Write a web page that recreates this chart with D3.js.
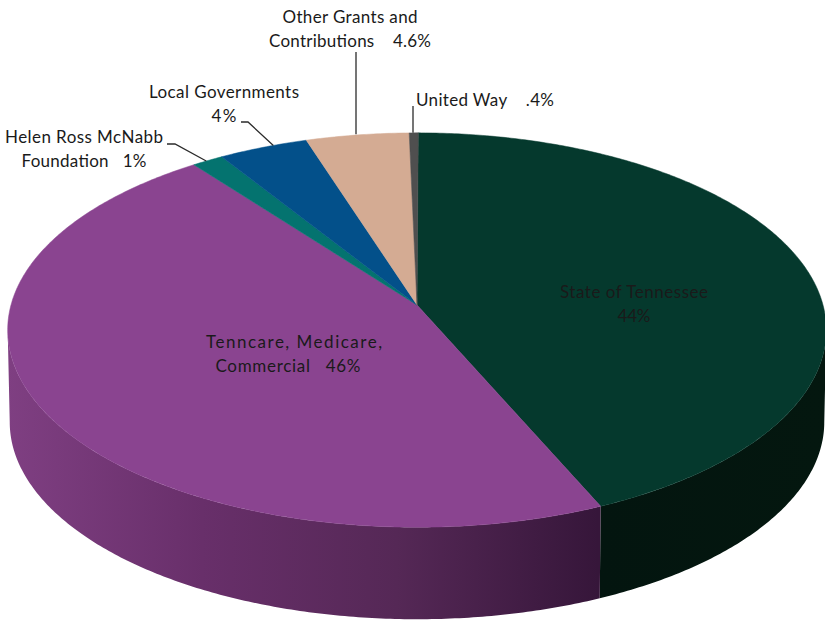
<!DOCTYPE html>
<html>
<head>
<meta charset="utf-8">
<script src="https://cdn.jsdelivr.net/npm/d3@7"></script>
<style>
  html, body { margin: 0; background: #fff; }
  text { font-family: Lato, "Open Sans", sans-serif; font-size: 17px; fill: #1a1a1a; white-space: pre; }
</style>
</head>
<body>
<div id="chart"></div>
<script>
const categories = ["State of Tennessee", "Tenncare, Medicare, Commercial", "Helen Ross McNabb Foundation", "Local Governments", "Other Grants and Contributions", "United Way"];
// shares (printed labels are rounded)
const shares = [43.4, 46.2, 1.4, 4, 4.6, 0.4];
const topColors = ["#05392d", "#8a4490", "#04736f", "#03508a", "#d4ab93", "#4f4f4f"];
const labelLines = [
  ["State of Tennessee", "44%"],
  ["Tenncare, Medicare,", "Commercial   46%"],
  ["Helen Ross McNabb", "Foundation   1%"],
  ["Local Governments", "4%"],
  ["Other Grants and", "Contributions    4.6%"],
  ["United Way    .4%"]
];

const width = 825, height = 620;
const svg = d3.select("#chart").append("svg")
    .attr("width", width)
    .attr("height", height);

// tilted disc with a bit of perspective: far edge is drawn smaller
const cx = 417, cy = 305, rx = 406, ry = 194, persp = 0.127, depth = 92;

function project(angle, r, drop) {
    const u = Math.sin(angle) * r, v = Math.cos(angle) * r;
    const w = 1 + persp * v;
    const shrink = drop ? 0.995 : 1;
    return [cx + rx * shrink * u / w, cy - ry * v / w + (drop ? depth : 0)];
}

function rimPoints(a0, a1, drop) {
    const n = Math.max(2, Math.ceil((a1 - a0) / 0.01));
    return d3.range(n + 1).map(i => project(a0 + (a1 - a0) * i / n, 1, drop));
}

const line = d3.line();
const startAngle = 0.2 * Math.PI / 180;
const slices = d3.pie().sort(null).startAngle(startAngle).endAngle(startAngle + 2 * Math.PI)(shares);

// the rim turns away from us at these angles
const rightTurn = Math.acos(-persp);
const leftTurn = 2 * Math.PI - rightTurn;

const defs = svg.append("defs");
const wallFronts = [
    { from: rightTurn, to: slices[0].endAngle, x: [600, 825], stops: [[0, "#03150f"], [1, "#04170f"]] },
    { from: slices[1].startAngle, to: leftTurn, x: [7, 598], stops: [[0, "#7f3f82"], [0.33, "#682f6a"], [0.66, "#552856"], [1, "#36163a"]] }
];

wallFronts.forEach((wall, i) => {
    const grad = defs.append("linearGradient")
        .attr("id", "wall" + i)
        .attr("gradientUnits", "userSpaceOnUse")
        .attr("x1", wall.x[0]).attr("x2", wall.x[1])
        .attr("y1", 0).attr("y2", 0);
    wall.stops.forEach(s => grad.append("stop").attr("offset", s[0]).attr("stop-color", s[1]));
    const upper = rimPoints(wall.from, wall.to, false);
    const lower = rimPoints(wall.from, wall.to, true).reverse();
    svg.append("path")
        .attr("d", line(upper.concat(lower)) + "Z")
        .attr("fill", "url(#wall" + i + ")");
});

svg.append("g").selectAll("path")
    .data(slices)
    .enter()
    .append("path")
    .attr("d", d => line([[cx, cy]].concat(rimPoints(d.startAngle, d.endAngle, false))) + "Z")
    .attr("fill", (d, i) => topColors[i])
    .attr("stroke", (d, i) => topColors[i])
    .attr("stroke-width", 0.5);

// leader lines run from the rim of the slice out to the label
const leaderElbows = [null, null, [[167, 144], [175, 144]], [[241, 122], [248, 122]], [[356, 52]], [[413, 106]]];
const leaderAt = [0, 0, 0.45, 0.62, 0.62, 0.45];
slices.forEach((d, i) => {
    if (!leaderElbows[i]) return;
    const a = d.startAngle + (d.endAngle - d.startAngle) * leaderAt[i];
    let end = project(a, 1, false);
    const elbow = leaderElbows[i];
    if (elbow.length === 1) end = [elbow[0][0], end[1]];
    svg.append("path")
        .attr("d", line(elbow.concat([end])))
        .attr("fill", "none")
        .attr("stroke", "#2b2b2b")
        .attr("stroke-width", 1.3);
});

// label placement, with the widths of the original's text lines
const labelAnchors = [[634, 298], [294, 348], [84, 143], [224, 98], [350, 23], [416, 106]];
const labelWidths = [[148, 33], [176, 145], [158, 125], [150, 25], [135, 162], [138]];
labelLines.forEach((lines, i) => {
    lines.forEach((s, k) => {
        svg.append("text")
            .attr("text-anchor", i === 5 ? "start" : "middle")
            .attr("x", labelAnchors[i][0] - (i === 1 && k === 1 ? 6 : 0))
            .attr("y", labelAnchors[i][1] + k * 23.5)
            .attr("textLength", labelWidths[i][k])
            .attr("lengthAdjust", "spacing")
            .text(s);
    });
});
</script>
</body>
</html>
